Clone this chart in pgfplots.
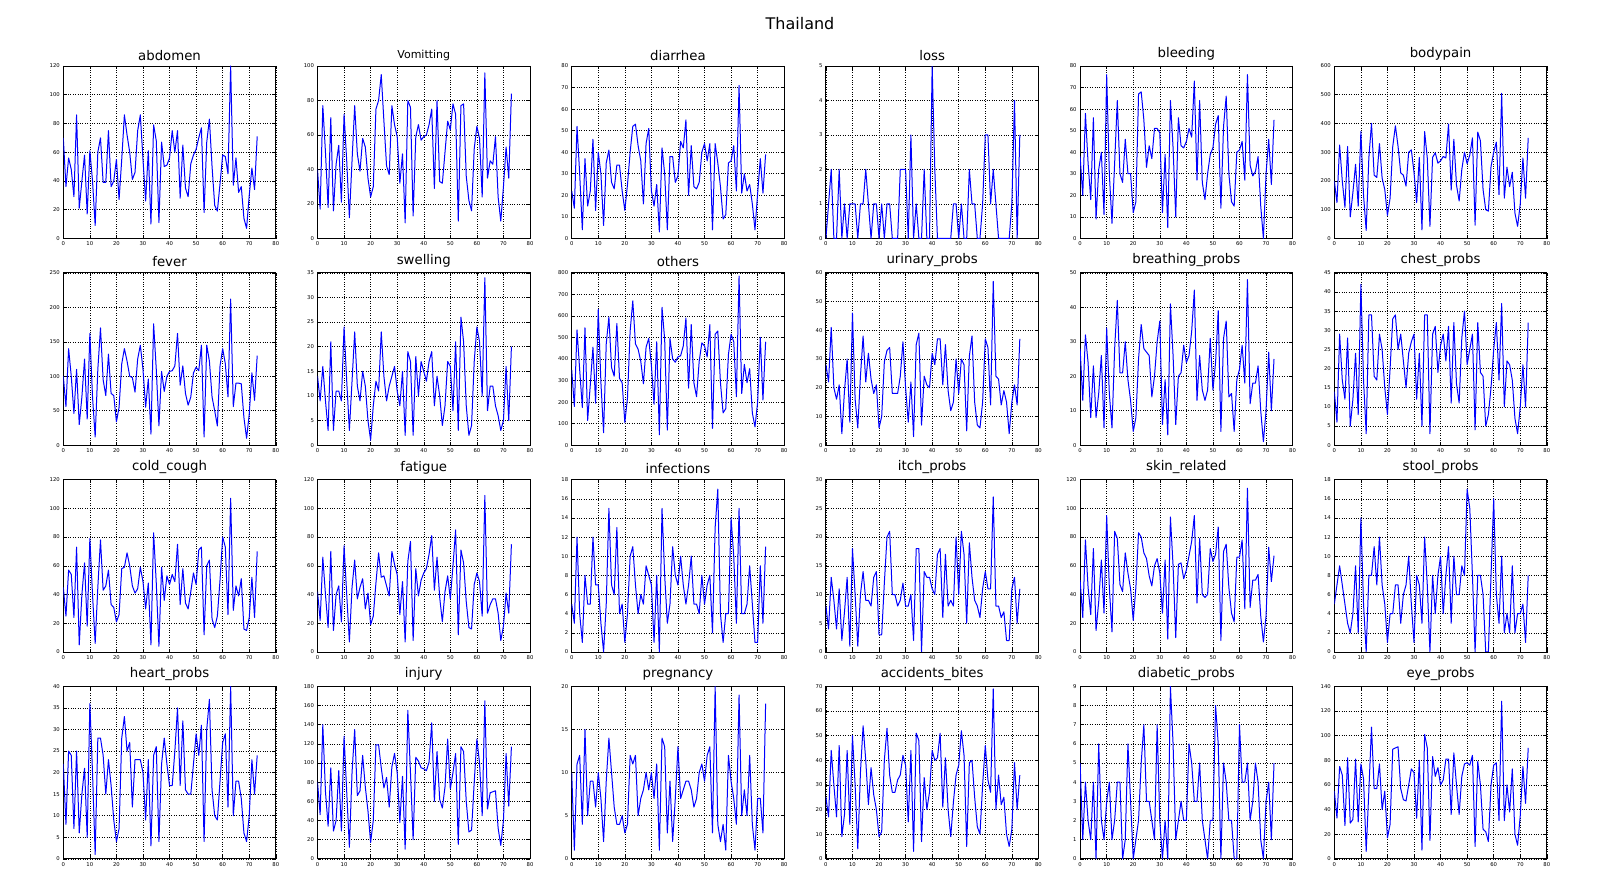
\documentclass[border=0pt]{standalone}
\usepackage{fontspec}
\setmainfont{DejaVu Sans}
\usepackage{pgfplots}
\pgfplotsset{compat=1.18}
\usepgfplotslibrary{groupplots}
\usetikzlibrary{calc}
\newcommand{\ser}[1]{\addplot[color=blue, solid, line width=1pt, line join=round, mark=none] table[header=false,row sep=\\,x expr=\coordindex,y index=0]{#1};}
\begin{document}
\begin{tikzpicture}
\begin{groupplot}[
  group style={group size=6 by 4, horizontal sep=41.7pt, vertical sep=34.4pt},
  width=212.5pt, height=172.4pt, scale only axis,
  xmin=0, xmax=80, xtick distance=10, ymin=0,
  grid=major, grid style={black, dotted, line width=0.5pt},
  axis line style={black, line width=0.9pt},
  tick align=inside, major tick length=3.5pt, tick style={black, line width=0.5pt},
  ticklabel style={font=\fontsize{5.3}{6}\selectfont, text=black},
  /pgf/number format/assume math mode=true,
  every axis title/.style={at={(0.5,1)}, anchor=south, inner sep=0pt, yshift=5.5pt, font=\fontsize{13.3}{15}\selectfont},
  scaled y ticks=false,
]
\nextgroupplot[title={abdomen}, ymax=120, ytick distance=20]
\coordinate (tl) at (rel axis cs:0,1);
\ser{70\\36\\56\\48\\29\\86\\21\\40\\58\\17\\61\\40\\9\\60\\70\\39\\39\\75\\36\\40\\55\\27\\55\\86\\72\\60\\41\\46\\75\\86\\55\\26\\61\\10\\79\\68\\11\\67\\50\\51\\56\\75\\60\\75\\28\\65\\35\\29\\52\\58\\62\\70\\77\\18\\67\\83\\50\\23\\19\\38\\58\\57\\45\\120\\37\\56\\32\\36\\14\\7\\30\\49\\34\\71\\}
\nextgroupplot[title={\fontsize{11}{12}\selectfont Vomitting}, ymax=100, ytick distance=20]
\ser{40\\17\\77\\50\\18\\70\\16\\43\\54\\21\\72\\45\\12\\45\\77\\49\\39\\58\\53\\35\\24\\30\\75\\80\\95\\68\\42\\37\\77\\66\\59\\32\\49\\9\\80\\76\\13\\59\\66\\57\\59\\60\\66\\75\\29\\80\\33\\32\\50\\68\\63\\78\\72\\10\\77\\78\\36\\22\\16\\52\\65\\58\\24\\96\\35\\45\\43\\59\\24\\10\\30\\53\\35\\84\\}
\nextgroupplot[title={diarrhea}, ymax=80, ytick distance=10]
\ser{22\\14\\52\\30\\4\\37\\15\\22\\46\\13\\40\\30\\6\\35\\41\\26\\23\\34\\34\\22\\13\\25\\40\\52\\53\\43\\36\\16\\44\\51\\22\\15\\25\\3\\42\\30\\4\\38\\38\\26\\29\\45\\42\\55\\20\\43\\24\\23\\26\\40\\44\\36\\44\\4\\44\\35\\24\\9\\11\\35\\36\\43\\22\\71\\21\\30\\22\\25\\16\\4\\21\\37\\21\\39\\}
\nextgroupplot[title={loss}, ymax=5, ytick distance=1]
\ser{0\\1\\2\\0\\0\\2\\0\\1\\0\\1\\1\\1\\0\\1\\1\\2\\1\\0\\1\\1\\0\\1\\0\\1\\1\\0\\0\\0\\2\\2\\2\\0\\3\\0\\1\\0\\0\\2\\0\\0\\5\\2\\0\\0\\0\\0\\0\\0\\1\\1\\0\\1\\0\\0\\2\\1\\1\\0\\0\\1\\3\\3\\1\\2\\1\\0\\0\\0\\0\\0\\1\\4\\0\\3\\}
\nextgroupplot[title={bleeding}, ymax=80, ytick distance=10]
\ser{38\\20\\58\\35\\18\\56\\9\\32\\40\\11\\76\\30\\7\\35\\64\\30\\26\\46\\30\\30\\12\\17\\67\\68\\55\\33\\43\\37\\51\\51\\49\\12\\39\\5\\64\\42\\10\\56\\43\\42\\45\\51\\47\\73\\27\\64\\26\\18\\30\\39\\42\\53\\57\\14\\52\\66\\30\\17\\15\\40\\41\\45\\27\\76\\34\\29\\31\\38\\15\\0\\30\\46\\25\\55\\}
\nextgroupplot[title={bodypain}, ymax=600, ytick distance=100]
\ser{200\\125\\325\\200\\108\\320\\75\\160\\258\\112\\372\\150\\28\\280\\400\\220\\212\\330\\210\\170\\80\\140\\320\\392\\320\\228\\220\\182\\300\\308\\230\\125\\282\\30\\372\\280\\42\\282\\298\\262\\270\\285\\280\\398\\168\\345\\185\\130\\240\\300\\260\\290\\350\\46\\370\\340\\170\\100\\95\\250\\300\\335\\152\\505\\140\\248\\180\\230\\88\\42\\120\\280\\140\\350\\}
\nextgroupplot[title={fever}, ymax=250, ytick distance=50]
\ser{100\\56\\140\\100\\46\\110\\30\\70\\125\\38\\162\\70\\12\\110\\170\\95\\72\\132\\75\\72\\34\\55\\118\\140\\122\\100\\98\\77\\125\\145\\110\\55\\96\\16\\176\\110\\28\\107\\78\\100\\107\\108\\115\\162\\87\\115\\75\\58\\70\\105\\113\\108\\145\\12\\145\\122\\70\\50\\28\\115\\140\\118\\70\\212\\56\\90\\90\\89\\40\\10\\45\\105\\65\\130\\}
\nextgroupplot[title={swelling}, ymax=35, ytick distance=5]
\ser{14\\9\\16\\9\\3\\21\\3\\11\\11\\9\\24\\13\\3\\13\\23\\12\\9\\15\\12\\5\\1\\8\\13\\11\\23\\14\\9\\12\\14\\16\\11\\8\\15\\2\\19\\17\\2\\18\\10\\17\\15\\13\\17\\19\\8\\14\\10\\4\\8\\17\\16\\7\\21\\3\\26\\21\\8\\2\\4\\17\\24\\21\\10\\34\\7\\12\\12\\8\\6\\3\\5\\16\\5\\20\\}
\nextgroupplot[title={others}, ymax=800, ytick distance=100]
\ser{350\\180\\535\\350\\175\\545\\115\\280\\455\\195\\630\\290\\58\\470\\595\\360\\320\\565\\310\\290\\105\\220\\530\\670\\470\\445\\390\\285\\455\\495\\370\\190\\480\\48\\640\\490\\70\\495\\400\\385\\410\\415\\460\\590\\265\\560\\290\\225\\390\\475\\460\\410\\560\\78\\515\\530\\290\\150\\170\\420\\515\\480\\225\\785\\240\\375\\290\\355\\150\\85\\200\\500\\210\\480\\}
\nextgroupplot[title={urinary\_probs}, ymax=60, ytick distance=10]
\ser{28\\22\\41\\20\\16\\21\\4\\19\\30\\8\\46\\16\\6\\24\\38\\22\\32\\23\\18\\21\\6\\10\\29\\33\\34\\18\\18\\18\\24\\36\\20\\8\\22\\3\\35\\39\\7\\24\\21\\20\\32\\28\\37\\37\\21\\35\\19\\12\\15\\30\\18\\30\\28\\5\\31\\38\\15\\7\\6\\15\\37\\34\\14\\57\\24\\23\\14\\19\\15\\4\\15\\21\\14\\37\\}
\nextgroupplot[title={breathing\_probs}, ymax=50, ytick distance=10]
\ser{28\\13\\32\\24\\8\\23\\8\\15\\26\\5\\34\\15\\5\\28\\42\\21\\21\\30\\19\\13\\4\\8\\25\\35\\28\\27\\26\\14\\20\\30\\36\\6\\19\\3\\41\\26\\6\\20\\21\\29\\24\\26\\33\\45\\13\\26\\16\\13\\16\\31\\16\\24\\39\\4\\31\\36\\14\\15\\4\\19\\22\\29\\18\\48\\12\\18\\18\\23\\10\\1\\10\\27\\10\\25\\}
\nextgroupplot[title={chest\_probs}, ymax=45, ytick distance=5]
\ser{14\\6\\29\\17\\12\\28\\5\\12\\24\\8\\42\\17\\3\\34\\34\\18\\17\\29\\25\\15\\8\\20\\33\\34\\25\\29\\22\\15\\24\\27\\29\\12\\24\\5\\34\\34\\3\\29\\31\\19\\26\\29\\22\\31\\11\\32\\16\\11\\28\\35\\21\\25\\29\\4\\32\\19\\18\\5\\8\\15\\25\\32\\17\\37\\10\\22\\21\\17\\7\\3\\10\\21\\10\\32\\}
\nextgroupplot[title={cold\_cough}, ymax=120, ytick distance=20]
\ser{45\\25\\57\\54\\24\\73\\5\\40\\62\\18\\79\\40\\6\\45\\78\\43\\46\\57\\33\\31\\21\\26\\58\\59\\69\\60\\46\\41\\44\\59\\49\\30\\48\\5\\83\\48\\4\\59\\36\\53\\47\\54\\49\\75\\33\\58\\34\\30\\42\\55\\47\\71\\73\\12\\60\\64\\23\\17\\25\\50\\80\\73\\26\\107\\29\\46\\39\\51\\16\\15\\24\\52\\24\\70\\}
\nextgroupplot[title={fatigue}, ymax=120, ytick distance=20]
\ser{42\\22\\66\\40\\17\\70\\15\\40\\46\\21\\74\\40\\7\\45\\64\\37\\45\\51\\30\\41\\19\\25\\48\\69\\52\\53\\46\\39\\70\\61\\54\\26\\49\\7\\63\\77\\8\\58\\39\\50\\55\\58\\68\\81\\43\\66\\38\\21\\42\\53\\37\\60\\85\\12\\71\\62\\35\\17\\16\\47\\55\\49\\25\\109\\27\\33\\37\\37\\27\\8\\18\\41\\27\\75\\}
\nextgroupplot[title={infections}, ymax=18, ytick distance=2]
\ser{5\\3\\12\\4\\1\\8\\5\\5\\12\\7\\7\\3\\0\\5\\15\\7\\6\\13\\4\\5\\1\\4\\10\\11\\7\\4\\6\\5\\9\\8\\7\\1\\8\\0\\15\\8\\3\\5\\11\\8\\7\\10\\7\\5\\7\\10\\5\\5\\4\\8\\5\\7\\8\\2\\13\\17\\4\\1\\4\\4\\14\\10\\3\\15\\4\\4\\5\\9\\5\\1\\1\\9\\3\\11\\}
\nextgroupplot[title={itch\_probs}, ymax=30, ytick distance=5]
\ser{8\\4\\13\\9\\4\\11\\2\\7\\13\\1\\18\\10\\1\\10\\14\\9\\9\\8\\13\\14\\3\\3\\12\\20\\21\\10\\10\\8\\9\\12\\8\\8\\10\\2\\18\\18\\0\\14\\13\\13\\11\\10\\17\\18\\6\\17\\8\\9\\8\\20\\10\\21\\17\\5\\19\\13\\9\\8\\6\\11\\14\\11\\11\\27\\8\\8\\6\\7\\2\\2\\11\\13\\5\\11\\}
\nextgroupplot[title={skin\_related}, ymax=120, ytick distance=20]
\ser{50\\24\\78\\45\\26\\72\\15\\35\\64\\27\\95\\45\\14\\84\\79\\47\\42\\69\\55\\44\\22\\45\\83\\80\\69\\65\\53\\46\\60\\65\\55\\27\\64\\9\\94\\60\\10\\61\\62\\51\\57\\67\\77\\95\\34\\79\\40\\38\\40\\72\\63\\68\\87\\8\\70\\75\\45\\27\\21\\66\\66\\78\\30\\114\\31\\50\\50\\54\\25\\7\\25\\73\\49\\67\\}
\nextgroupplot[title={stool\_probs}, ymax=18, ytick distance=2]
\ser{5\\7\\9\\7\\5\\3\\2\\4\\9\\2\\14\\5\\0\\8\\8\\11\\7\\12\\7\\5\\1\\4\\4\\7\\7\\3\\6\\7\\10\\5\\1\\8\\7\\3\\12\\7\\0\\8\\4\\8\\10\\4\\8\\11\\3\\10\\6\\6\\9\\8\\17\\15\\8\\0\\8\\8\\6\\0\\0\\8\\16\\6\\3\\10\\2\\4\\2\\9\\2\\4\\4\\5\\1\\8\\}
\nextgroupplot[title={heart\_probs}, ymax=40, ytick distance=5]
\ser{22\\8\\25\\24\\7\\25\\6\\15\\21\\5\\36\\20\\1\\28\\28\\24\\15\\23\\17\\9\\4\\7\\28\\33\\25\\27\\12\\23\\23\\23\\20\\9\\23\\3\\24\\26\\4\\22\\28\\22\\17\\17\\25\\35\\17\\32\\16\\15\\15\\22\\29\\24\\31\\4\\30\\37\\16\\10\\9\\18\\27\\29\\12\\40\\10\\18\\18\\14\\6\\4\\10\\23\\15\\24\\}
\nextgroupplot[title={injury}, ymax=180, ytick distance=20]
\ser{80\\46\\140\\70\\34\\95\\29\\40\\92\\29\\128\\70\\12\\90\\135\\66\\71\\108\\75\\50\\17\\40\\119\\119\\95\\74\\85\\54\\96\\110\\90\\38\\86\\10\\155\\90\\20\\106\\102\\95\\94\\92\\101\\142\\60\\112\\62\\53\\75\\125\\73\\90\\110\\15\\117\\112\\60\\28\\30\\80\\125\\100\\45\\165\\52\\69\\70\\71\\32\\14\\40\\110\\55\\117\\}
\nextgroupplot[title={pregnancy}, ymax=20, ytick distance=5]
\ser{10\\1\\11\\12\\4\\15\\5\\9\\9\\6\\10\\7\\2\\9\\14\\10\\6\\4\\4\\5\\3\\4\\12\\11\\12\\5\\7\\8\\10\\8\\10\\7\\11\\1\\14\\13\\3\\9\\2\\7\\13\\7\\8\\9\\9\\8\\6\\7\\10\\11\\9\\12\\13\\3\\20\\4\\2\\4\\1\\12\\9\\7\\4\\19\\5\\8\\5\\12\\4\\1\\7\\7\\3\\18\\}
\nextgroupplot[title={accidents\_bites}, ymax=70, ytick distance=10]
\ser{25\\17\\44\\30\\17\\46\\9\\18\\44\\14\\50\\30\\4\\35\\54\\40\\22\\37\\26\\20\\9\\11\\40\\53\\34\\27\\27\\32\\34\\42\\38\\15\\44\\3\\51\\48\\7\\33\\20\\27\\44\\40\\41\\51\\21\\41\\20\\9\\23\\34\\38\\52\\42\\5\\39\\40\\25\\13\\10\\30\\46\\32\\27\\69\\20\\34\\22\\25\\10\\5\\12\\39\\20\\34\\}
\nextgroupplot[title={diabetic\_probs}, ymax=9, ytick distance=1]
\ser{5\\1\\4\\2\\1\\4\\0\\6\\2\\1\\3\\4\\1\\2\\4\\4\\0\\1\\6\\3\\0\\1\\2\\5\\7\\3\\3\\2\\1\\7\\2\\0\\2\\0\\9\\6\\1\\2\\3\\2\\2\\6\\5\\3\\3\\5\\2\\1\\0\\2\\2\\8\\6\\0\\5\\4\\2\\2\\0\\0\\7\\4\\4\\5\\2\\3\\5\\4\\1\\0\\3\\4\\1\\5\\}
\nextgroupplot[title={eye\_probs}, ymax=140, ytick distance=20]
\ser{55\\33\\75\\68\\27\\82\\29\\32\\81\\30\\77\\65\\6\\55\\107\\57\\57\\77\\40\\55\\17\\28\\89\\90\\91\\57\\48\\47\\60\\73\\70\\33\\80\\7\\101\\90\\15\\83\\67\\74\\60\\64\\81\\81\\36\\86\\60\\36\\67\\77\\78\\76\\84\\10\\79\\60\\24\\22\\14\\60\\76\\78\\31\\128\\31\\60\\38\\73\\20\\11\\35\\75\\45\\90\\}
\end{groupplot}
\pgfresetboundingbox
\path[use as bounding box] ($(tl)+(-63.3pt,66pt)$) rectangle ++(1600pt,-894pt);
\node[font=\fontsize{16}{18}\selectfont] at ($(tl)+(736.7pt,42.5pt)$) {Thailand};
\end{tikzpicture}
\end{document}
